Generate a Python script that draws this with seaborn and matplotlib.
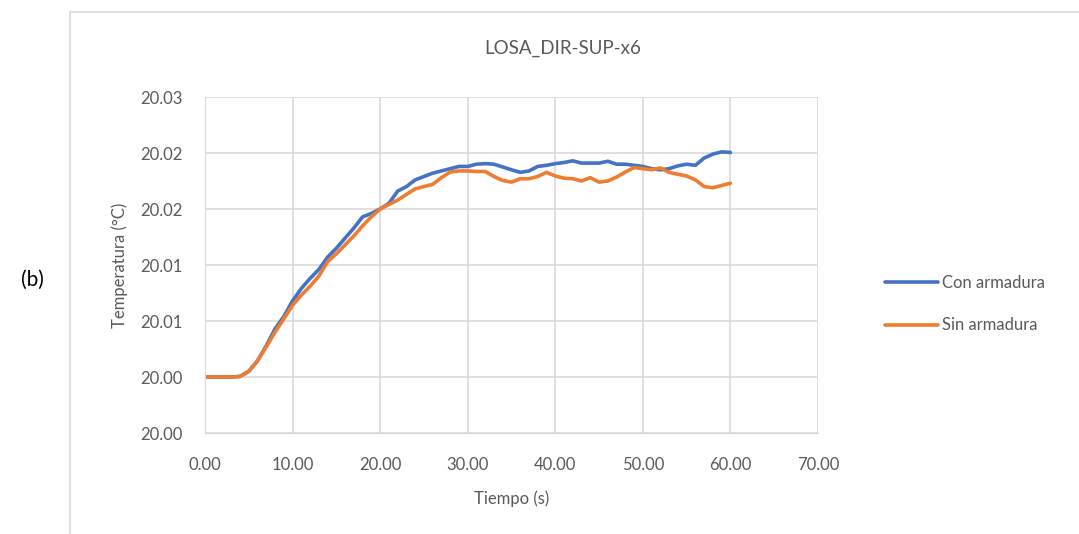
import matplotlib.pyplot as plt
import matplotlib.lines as mlines
import seaborn as sns
import pandas as pd

# Datos (tiempo en s, temperatura en °C)
tiempo = list(range(0, 61))
con_armadura = [
    20.00000, 20.00000, 20.00000, 20.00000, 20.00005, 20.00050, 20.00145, 20.00280, 20.00430, 20.00540,
    20.00680, 20.00790, 20.00880, 20.00960, 20.01070, 20.01150, 20.01240, 20.01330, 20.01430, 20.01460,
    20.01500, 20.01550, 20.01660, 20.01700, 20.01760, 20.01790, 20.01820, 20.01840, 20.01860, 20.01880,
    20.01880, 20.01900, 20.01905, 20.01900, 20.01875, 20.01850, 20.01827, 20.01840, 20.01880, 20.01890,
    20.01905, 20.01915, 20.01930, 20.01910, 20.01910, 20.01910, 20.01926, 20.01900, 20.01900, 20.01890,
    20.01880, 20.01860, 20.01850, 20.01860, 20.01885, 20.01900, 20.01890, 20.01955, 20.01990, 20.02010,
    20.02005,
]
sin_armadura = [
    20.00000, 20.00000, 20.00000, 20.00000, 20.00005, 20.00050, 20.00145, 20.00270, 20.00400, 20.00520,
    20.00640, 20.00730, 20.00810, 20.00900, 20.01030, 20.01100, 20.01180, 20.01260, 20.01350, 20.01430,
    20.01500, 20.01540, 20.01580, 20.01630, 20.01680, 20.01700, 20.01720, 20.01780, 20.01830, 20.01840,
    20.01840, 20.01835, 20.01835, 20.01790, 20.01755, 20.01740, 20.01770, 20.01770, 20.01790, 20.01827,
    20.01795, 20.01775, 20.01770, 20.01750, 20.01780, 20.01740, 20.01750, 20.01785, 20.01830, 20.01870,
    20.01860, 20.01850, 20.01866, 20.01827, 20.01810, 20.01795, 20.01760, 20.01700, 20.01690, 20.01710,
    20.01730,
]
series = ["Con armadura", "Sin armadura"]
x_ticks = [0, 10, 20, 30, 40, 50, 60, 70]
y_ticks = [19.995, 20.000, 20.005, 20.010, 20.015, 20.020, 20.025]
y_tick_labels = ["20.00", "20.00", "20.01", "20.01", "20.02", "20.02", "20.03"]

df = pd.DataFrame({
    "Tiempo": tiempo * 2,
    "Temperatura": con_armadura + sin_armadura,
    "Serie": [series[0]] * len(tiempo) + [series[1]] * len(tiempo),
})

sns.set_style("white")
plt.rcParams['font.family'] = ['Lato', 'DejaVu Sans']
texto = '#595959'
rejilla = '#D9D9D9'
colores = ["#4472C4", "#ED7D31"]

fig = plt.figure(figsize=(10.79, 5.34), dpi=100)
ax = fig.add_axes([205 / 1079, 1 - 433 / 534, (818 - 205) / 1079, (433 - 97) / 534])

sns.lineplot(data=df, x="Tiempo", y="Temperatura", hue="Serie",
             palette=colores, linewidth=2.6, ax=ax, legend=False)
for ln in ax.get_lines():
    ln.set_solid_joinstyle('round')
    ln.set_solid_capstyle('round')

ax.set_xlim(0, 70)
ax.set_ylim(19.995, 20.025)
ax.set_xticks(x_ticks)
ax.set_xticklabels([f"{v:.2f}" for v in x_ticks])
ax.set_yticks(y_ticks)
ax.set_yticklabels(y_tick_labels)
ax.tick_params(axis='x', length=0, labelsize=12, colors=texto, pad=17)
ax.tick_params(axis='y', length=0, labelsize=12, colors=texto, pad=16)
ax.grid(True, color=rejilla, linewidth=1.2)
ax.set_axisbelow(True)
for s in ax.spines.values():
    s.set_visible(False)
ax.spines['bottom'].set_visible(True)
ax.spines['bottom'].set_color(rejilla)
ax.spines['left'].set_visible(True)
ax.spines['left'].set_color(rejilla)

ax.set_xlabel("Tiempo (s)", fontsize=12, color=texto, labelpad=13)
ax.set_ylabel("Temperatura (°C)", fontsize=12, color=texto, labelpad=9)
fig.text(563 / 1079, 1 - 48 / 534, "LOSA_DIR-SUP-x6", ha='center', va='center',
         fontsize=13.5, color=texto)
fig.text(32 / 1079, 1 - 280 / 534, "(b)", ha='center', va='center', fontsize=15, color='black')

# Leyenda a la derecha
handles = [mlines.Line2D([], [], color=c, linewidth=2.6) for c in colores]
leg = fig.legend(handles, series, loc='center left', bbox_to_anchor=(870 / 1079, 1 - 304 / 534),
                 frameon=False, fontsize=12, handlelength=3.2, handletextpad=0.25,
                 labelspacing=1.6, labelcolor=texto)

# Borde exterior del gráfico
borde_y = 1 - 12 / 534
fig.add_artist(mlines.Line2D([70 / 1079, 70 / 1079], [0, borde_y], color=rejilla, linewidth=1.2))
fig.add_artist(mlines.Line2D([70 / 1079, 1], [borde_y, borde_y], color=rejilla, linewidth=1.2))

fig.savefig("out.png", dpi=100)
